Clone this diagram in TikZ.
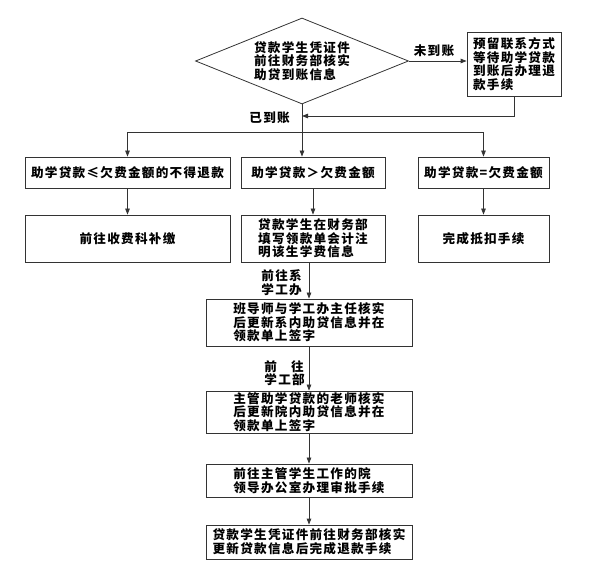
\documentclass[tikz,border=0pt]{standalone}
\usepackage{fontspec}
\newfontfamily\cjk[LetterSpace=10]{Noto Sans CJK SC}
\usetikzlibrary{shapes.geometric,arrows.meta}
\definecolor{linec}{HTML}{333333}

\begin{document}
\begin{tikzpicture}[x=1pt,y=1pt,yscale=-1,
    every node/.style={font=\cjk\bfseries\fontsize{12.6}{13.6}\selectfont},
    box/.style={draw=linec, line width=0.8pt, inner sep=0pt, align=center},
    lbl/.style={inner sep=0pt, align=left},
    arr/.style={draw=linec, line width=0.8pt, -{Triangle[length=6pt,width=4.5pt]}}]
    \useasboundingbox (0,0) rectangle (614,580);

    % Decision
    \node[box, diamond, shape aspect=2.48, minimum width=213pt, minimum height=86pt, align=left] (dec) at (302,61) {贷款学生凭证件\\前往财务部核实\\助贷到账信息};
    % Waiting box
    \node[box, minimum width=94pt, minimum height=64pt, align=left] (wait) at (514,64) {预留联系方式\\等待助学贷款\\到账后办理退\\款手续};

    % Row 1
    \node[box, minimum width=205pt, minimum height=31pt] (less) at (127.5,172.5) {助学贷款≤欠费金额的不得退款};
    \node[box, minimum width=144pt, minimum height=31pt] (more) at (313,172.5) {助学贷款＞欠费金额};
    \node[box, minimum width=131pt, minimum height=31pt] (equal) at (483.5,172.5) {助学贷款=欠费金额};

    % Row 2
    \node[box, minimum width=205pt, minimum height=47pt] (pay) at (127.5,238.5) {前往收费科补缴};
    \node[box, minimum width=144pt, minimum height=47pt, align=left] (fill) at (313,238.5) {贷款学生在财务部\\填写领款单会计注\\明该生学费信息};
    \node[box, minimum width=131pt, minimum height=47pt] (done) at (483.5,238.5) {完成抵扣手续};

    % Middle chain
    \node[box, minimum width=206pt, minimum height=47pt, align=left] (dept) at (309,322.5) {班导师与学工办主任核实\\后更新系内助贷信息并在\\领款单上签字};
    \node[box, minimum width=206pt, minimum height=42pt, align=left] (coll) at (309,412) {主管助学贷款的老师核实\\后更新院内助贷信息并在\\领款单上签字};
    \node[box, minimum width=206pt, minimum height=33pt, align=left] (lead) at (309,480.5) {前往主管学生工作的院\\领导办公室办理审批手续};
    \node[box, minimum width=206pt, minimum height=34pt, align=left] (fin) at (309,542) {贷款学生凭证件前往财务部核实\\更新贷款信息后完成退款手续};

    % Text Node
    \node[lbl, anchor=south] (no) at (434,57) {未到账};
    \node[lbl, anchor=east] (yes) at (290,118) {已到账};
    \node[lbl, anchor=east] (todept) at (302,283) {前往系\\学工办};
    \node[lbl, anchor=east] (tocoll) at (305,373) {前\hspace{14pt}往\\学工部};

    \coordinate (back) at (302,116);
    \coordinate (split) at (302,132);

    % Connectors
    \draw[arr] (dec.east) -- (dec.east -| wait.west);
    \draw[arr] (wait.south) |- (back);
    \draw[arr] (dec.south) -- (dec.south |- more.north);
    \draw[arr] (split) -| (less.north);
    \draw[arr] (split) -| (equal.north);
    \draw[arr] (less) -- (pay);
    \draw[arr] (more) -- (fill);
    \draw[arr] (equal) -- (done);
    \draw[arr] (fill.south -| dept.north) -- (dept.north);
    \draw[arr] (dept) -- (coll);
    \draw[arr] (coll) -- (lead);
    \draw[arr] (lead) -- (fin);
\end{tikzpicture}
\end{document}
